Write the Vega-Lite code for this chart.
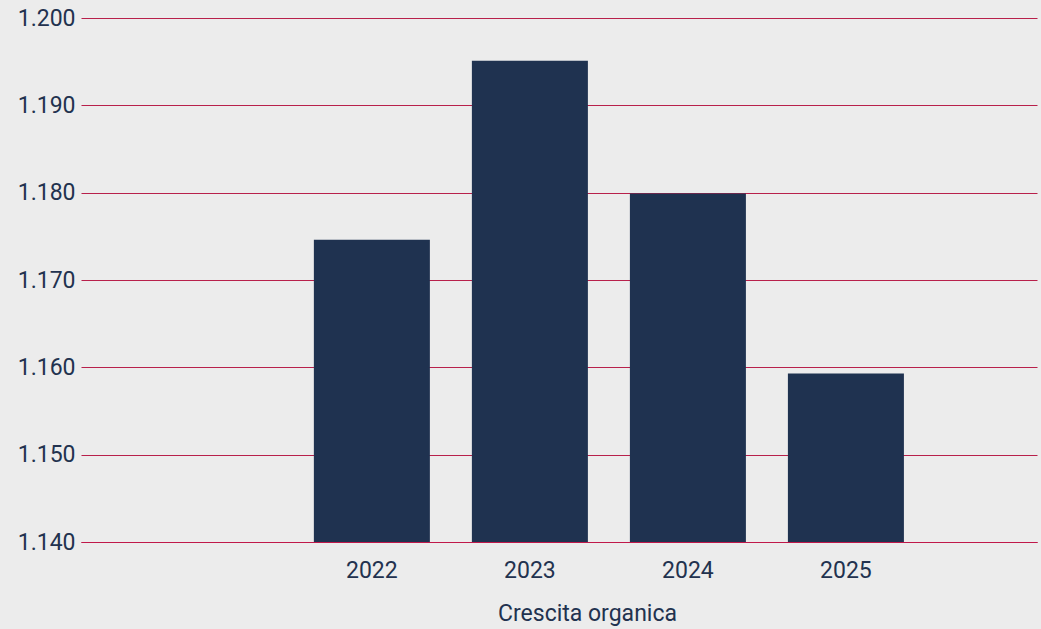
{
  "$schema": "https://vega.github.io/schema/vega-lite/v6.json",
  "autosize": "none",
  "width": 956,
  "height": 524,
  "padding": {"left": 81, "top": 18, "right": 4, "bottom": 87},
  "background": "#ececec",
  "data": {
    "values": [
      {"anno": "2022", "valore": 1174.6},
      {"anno": "2023", "valore": 1195.1},
      {"anno": "2024", "valore": 1179.9},
      {"anno": "2025", "valore": 1159.3}
    ]
  },
  "mark": {"type": "bar", "color": "#1f3250", "clip": true},
  "encoding": {
    "x": {
      "field": "anno",
      "type": "nominal",
      "sort": null,
      "scale": {"domain": [" ", "2022", "2023", "2024", "2025"], "paddingInner": 0.2658, "paddingOuter": 0.658, "align": 0.36},
      "axis": {
        "title": "Crescita organica",
        "titleFont": "Roboto",
        "titleFontSize": 23,
        "titleFontWeight": "normal",
        "titleColor": "#22324f",
        "titleX": 506,
        "titleY": 78,
        "titleAlign": "center",
        "titleBaseline": "alphabetic",
        "labelAngle": 0,
        "labelFont": "Roboto",
        "labelFontSize": 23,
        "labelColor": "#22324f",
        "labelPadding": 17,
        "ticks": false,
        "domain": true,
        "domainColor": "#c0184a",
        "domainWidth": 1,
        "zindex": 1
      }
    },
    "y": {
      "field": "valore",
      "type": "quantitative",
      "scale": {"domain": [1140, 1200], "nice": false, "zero": false},
      "axis": {
        "title": null,
        "values": [1140, 1150, 1160, 1170, 1180, 1190, 1200],
        "labelExpr": "replace(format(datum.value, ','), ',', '.')",
        "labelFont": "Roboto",
        "labelFontSize": 23,
        "labelColor": "#22324f",
        "labelPadding": 6,
        "ticks": false,
        "domain": false,
        "grid": true,
        "gridColor": "#b8204b",
        "gridWidth": 1
      }
    }
  },
  "config": {
    "view": {"stroke": null}
  }
}
